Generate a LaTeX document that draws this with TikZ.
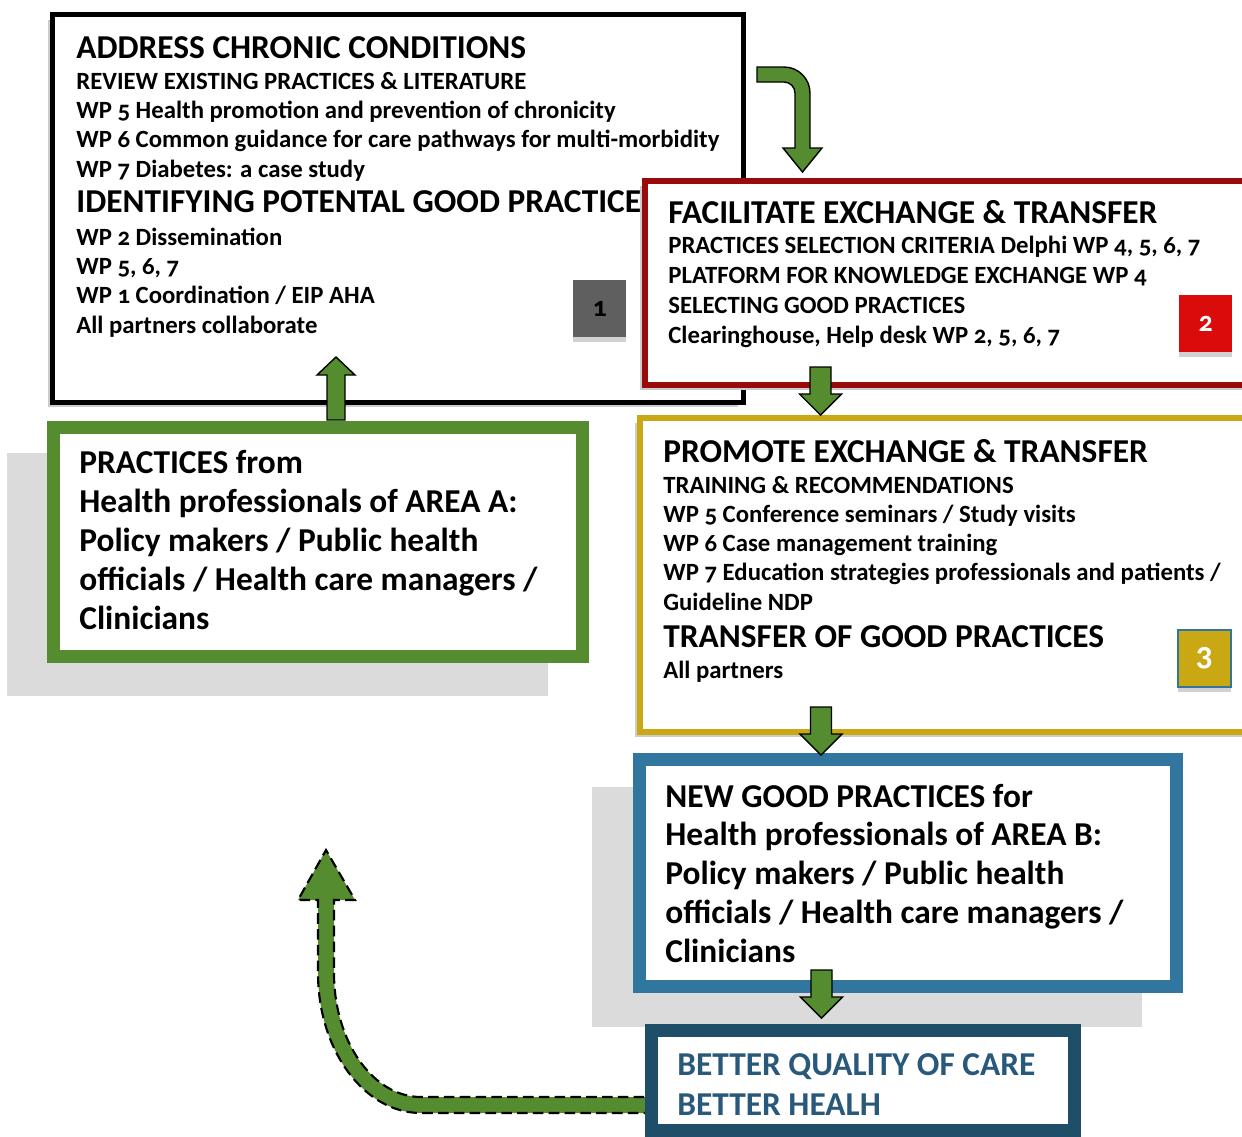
\documentclass[tikz,border=0pt]{standalone}
\usepackage{fontspec}
\setmainfont{Carlito}[Numbers=OldStyle]
\usetikzlibrary{shadows}

\definecolor{pgreen}{HTML}{548C2F}
\definecolor{pred}{HTML}{990A0A}
\definecolor{numred}{HTML}{DA0B0B}
\definecolor{pgold}{HTML}{C9A814}
\definecolor{pblue}{HTML}{31769F}
\definecolor{pteal}{HTML}{1F4E68}
\definecolor{tealtext}{HTML}{28597A}
\definecolor{numgray}{HTML}{5F5F5F}
\definecolor{backgray}{HTML}{DBDBDB}

\tikzset{
	panel/.style={rectangle, draw, fill=white, anchor=north west, inner sep=0pt, outer sep=0pt},
	panelshadow/.style={general shadow={fill=black!20, shadow xshift=-0.1cm, shadow yshift=-0.1cm}},
	txt/.style={anchor=base west, inner sep=0pt, font=\fontsize{14.1}{16}\selectfont\bfseries},
	hd/.style={txt, font=\fontsize{19}{22}\selectfont\bfseries},
	numbox/.style={rectangle, anchor=north west, inner sep=0pt, minimum width=1.06cm, minimum height=1.14cm,
		font=\fontsize{16}{18}\selectfont\bfseries, general shadow={fill=black!18, shadow yshift=-0.1cm}},
	blockarrow/.style={fill=pgreen, draw=black, line width=0.8pt},
	downarrow/.pic={\draw[blockarrow] (-10.5,0) -- (-10.5,27) -- (-21,27) -- (0,48) -- (21,27) -- (10.5,27) -- (10.5,0) -- cycle;}
}

\begin{document}
\begin{tikzpicture}[x=0.02cm, y=-0.02cm]
	\useasboundingbox (0,0) rectangle (1242,1137);
	\clip (0,0) rectangle (1242,1137);
	
	% grey plates behind the two practice boxes
	\fill[backgray] (7,453) rectangle (548,696);
	\fill[backgray] (592,787) rectangle (1142,1027);
	
	% step 1
	\node[panel, panelshadow, line width=2.8pt, minimum width=13.82cm, minimum height=7.76cm] (chronic) at (52.5,14.5) {};
	\node[hd] (chronic-h1) at (76,58) {ADDRESS CHRONIC CONDITIONS};
	\foreach \t [count=\i] in {REVIEW EXISTING PRACTICES \& LITERATURE, WP 5 Health promotion and prevention of chronicity,
		WP 6 Common guidance for care pathways for multi-morbidity, WP 7 Diabetes: a case study}
		\node[txt] (chronic-a\i) at (76,{89+29.4*(\i-1)}) {\t};
	\node[hd] (chronic-h2) at (76,212) {IDENTIFYING POTENTAL GOOD PRACTICE};
	\foreach \t [count=\i] in {WP 2 Dissemination, {WP 5, 6, 7}, WP 1 Coordination / EIP AHA, All partners collaborate}
		\node[txt] (chronic-b\i) at (76,{245+29.4*(\i-1)}) {\t};
	\node[numbox, fill=numgray] (num1) at (573,280) {1};
	
	\draw[blockarrow] (327,420) -- (327,375) -- (317,375) -- (336,357) -- (355,375) -- (345,375) -- (345,420) -- cycle;
	
	% step 2
	\node[panel, panelshadow, draw=pred, line width=3.7pt, minimum width=12.3cm, minimum height=4.08cm] (facil) at (645,181) {};
	\node[hd] (facil-h) at (668,223) {FACILITATE EXCHANGE \& TRANSFER};
	\foreach \t [count=\i] in {{PRACTICES SELECTION CRITERIA Delphi WP 4, 5, 6, 7}, PLATFORM FOR KNOWLEDGE EXCHANGE WP 4,
		SELECTING GOOD PRACTICES, {Clearinghouse, Help desk WP 2, 5, 6, 7}}
		\node[txt] (facil-\i) at (668,{253+30*(\i-1)}) {\t};
	\node[numbox, fill=numred, text=white] (num2) at (1179,295) {2};
	
	% step 3
	\node[panel, panelshadow, draw=pgold, line width=3.1pt, minimum width=12.4cm, minimum height=6.28cm] (promote) at (640,418) {};
	\node[hd] (promote-h1) at (663,462) {PROMOTE EXCHANGE \& TRANSFER};
	\foreach \t [count=\i] in {TRAINING \& RECOMMENDATIONS, WP 5 Conference seminars / Study visits, WP 6 Case management training,
		WP 7 Education strategies professionals and patients /, Guideline NDP}
		\node[txt] (promote-\i) at (663,{493+29.3*(\i-1)}) {\t};
	\node[hd] (promote-h2) at (663,647) {TRANSFER OF GOOD PRACTICES};
	\node[txt] (promote-6) at (663,678) {All partners};
	\node[numbox, fill=pgold, draw=pblue, line width=1pt, text=white, font=\fontsize{19}{21}\selectfont\bfseries] (num3) at (1177,629) {3};
	
	% practices of area A
	\node[panel, draw=pgreen, line width=7.2pt, minimum width=10.58cm, minimum height=4.58cm] (areaA) at (53.4,427.4) {};
	\foreach \t [count=\i] in {PRACTICES from, Health professionals of AREA A:, Policy makers / Public health,
		officials / Health care managers /, Clinicians}
		\node[hd] (areaA-\i) at (79,{473+39*(\i-1)}) {\t};
	
	% new good practices in area B
	\node[panel, draw=pblue, line width=7.2pt, minimum width=10.74cm, minimum height=4.54cm] (areaB) at (639.4,759.4) {};
	\foreach \t [count=\i] in {NEW GOOD PRACTICES for, Health professionals of AREA B:, Policy makers / Public health,
		officials / Health care managers /, Clinicians}
		\node[hd] (areaB-\i) at (665,{807+38.8*(\i-1)}) {\t};
	
	% back loop
	\draw[fill=pgreen, draw=black, line width=1.2pt, dash pattern=on 6pt off 3pt]
		(660,1097) -- (421,1097) arc[start angle=90, end angle=180, x radius=87, y radius=124]
		-- (334,900) -- (355,900) -- (326,850) -- (298,900) -- (318,900) -- (318,973)
		arc[start angle=180, end angle=90, x radius=103, y radius=140] -- (660,1113) -- cycle;
	
	% outcome
	\node[panel, draw=pteal, line width=7.2pt, minimum width=8.46cm, minimum height=2cm] (outcome) at (651.4,1030.4) {};
	\node[hd, text=tealtext] (outcome-1) at (677,1075) {BETTER QUALITY OF CARE};
	\node[hd, text=tealtext] (outcome-2) at (677,1115) {BETTER HEALH};
	
	% arrows between the steps
	\draw[blockarrow] (757,67) -- (784,67) arc[start angle=-90, end angle=0, radius=26] -- (810,148) -- (822,148)
		-- (802.5,172) -- (783,148) -- (795,148) -- (795,93) arc[start angle=0, end angle=-90, radius=11] -- (757,82) -- cycle;
	\pic at (820.5,367) {downarrow};
	\pic at (821,707) {downarrow};
	\pic at (821.5,970) {downarrow};
\end{tikzpicture}
\end{document}
